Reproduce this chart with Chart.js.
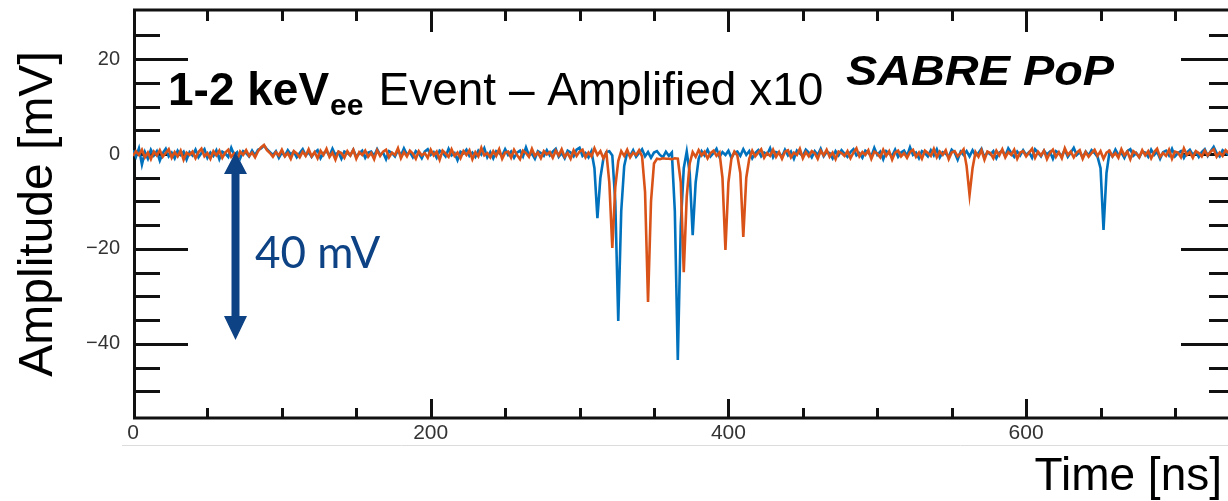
<!DOCTYPE html>
<html>
<head>
<meta charset="utf-8">
<script src="https://cdn.jsdelivr.net/npm/chart.js@4.4.0/dist/chart.umd.min.js"></script>
<style>
  html, body { margin: 0; padding: 0; background: #fff; overflow: hidden; }
</style>
</head>
<body>
<canvas id="pulse" width="1240" height="501"></canvas>
<script>
// digitiser sampling period (ns); sample i sits at t = i * sampleNs
const sampleNs = 2;

// PMT 1 (blue) amplitude in mV, 20 samples (40 ns) per row
const pmt1Mv = [
  0.8, -0.6, 1.2, -2.2, 0.4, -1.0, 0.9, -0.3, 0.6, -1.4, 0.2, 1.1, -0.5, 0.3, -0.9, 0.7, -0.2, 0.5, -1.2, 0.4,
  -0.3, 0.9, -0.7, 0.2, 1.0, -0.8, 0.3, -0.4, 0.8, -1.1, 0.5, 0.1, -0.6, 1.3, -0.2, 0.4, -0.9, 0.6, 0.2, -0.5,
  0.7, -0.3, 0.9, 1.2, 1.8, 1.0, 0.4, -0.2, 0.6, -0.8, 0.3, -0.4, 0.8, -0.1, 0.5, -0.7, 0.2, 1.0, -0.3, 0.4,
  -0.6, 0.3, 0.8, -0.9, 0.2, 0.6, -0.4, 1.1, -0.2, 0.4, -1.0, 0.5, 0.2, -0.3, 0.9, -0.6, 0.1, 0.7, -0.8, 0.3,
  0.5, -0.4, 1.0, -0.2, 0.3, -1.1, 0.6, 0.2, -0.5, 0.8, -0.3, 1.2, -0.1, 0.4, -0.7, 0.6, 0.1, -0.9, 0.5, 1.0,
  -0.2, 0.4, -0.8, 0.7, 0.3, -0.5, 1.1, -0.3, 0.2, -1.3, 0.5, 0.1, 0.9, -0.4, 0.3, -0.6, 0.7, -0.1, 1.2, -0.7,
  0.4, -0.9, 0.6, 0.2, -0.4, 1.0, -0.2, 0.5, -0.8, 0.3, 0.7, -0.5, 1.4, -0.3, 0.1, -1.0, 0.6, 0.2, -0.4, 0.8,
  -0.3, 0.5, 1.1, -0.6, 0.2, -0.9, 0.7, 0.3, -0.5, 0.9, 1.3, -0.4, 0.2, -0.7, 0.6, -3.0, -13.5, -5.0, -1.0, 0.4,
  0.6, -0.3, -10.0, -35.2, -12.0, -2.5, 0.3, -0.4, 0.8, -0.6, 0.2, 1.0, -0.5, 0.4, -0.8, 0.3, 0.6, -0.2, -0.7, 0.5,
  -0.4, 0.3, -12.0, -43.4, -15.0, -3.0, 0.5, -4.0, -17.1, -6.0, -1.0, 0.6, -0.3, 0.9, -0.5, 0.2, 1.1, -0.6, 0.4, -0.2,
  0.7, -0.8, 0.3, 0.5, -0.4, 1.0, -0.2, 0.6, -0.9, 0.2, 0.8, -0.5, 0.3, -0.1, 1.2, -0.7, 0.4, 0.2, -0.6, 0.9,
  -0.3, 0.5, -1.0, 0.7, 0.1, -0.4, 0.9, 0.3, -0.7, 0.6, -0.2, 1.1, -0.5, 0.4, 0.2, -0.9, 0.6, -0.3, 0.8, 0.1,
  -0.6, 0.4, 1.0, -0.3, 0.2, -0.8, 0.7, 0.3, -0.5, 1.3, -0.2, 0.5, -1.1, 0.6, 0.1, -0.4, 0.9, -0.6, 0.3, 0.7,
  -0.4, 1.4, -0.2, 0.3, -0.9, 0.6, 0.2, -0.5, 0.8, -0.3, 1.0, -0.7, 0.4, 0.1, -0.6, 0.9, 0.3, -1.2, 0.5, -0.2,
  0.6, -0.5, 0.8, -0.3, 0.2, 1.1, -0.7, 0.4, -0.1, 0.6, -0.9, 0.3, 0.7, -0.4, 1.2, 0.2, -0.6, 0.5, -0.3, 0.8,
  -0.2, 0.4, -0.8, 1.0, 0.3, -0.5, 0.7, -0.1, 0.5, -1.0, 0.6, 0.2, -0.4, 0.9, -0.6, 0.3, 1.3, -0.2, 0.4, -0.7,
  0.5, -0.3, 0.8, 0.2, -0.6, -3.0, -16.0, -4.0, 0.4, -0.5, 0.9, -0.2, 0.3, -0.8, 0.6, 1.0, -0.4, 0.2, -0.7, 0.5,
  0.3, -0.6, 0.9, -0.2, 0.5, -1.0, 0.4, 0.7, -0.3, 1.1, -0.5, 0.2, 0.6, -0.8, 0.3, 0.9, -0.2, 0.5, -0.6, 0.4,
  1.0, -0.4, 0.6, 1.5, 0.2, -0.5, 0.8, 0.3, -0.2
];

// PMT 2 (orange) amplitude in mV, same sampling
const pmt2Mv = [
  -0.4, 0.6, -0.2, 0.9, -0.7, 0.3, -1.1, 0.5, -0.3, 0.8, -0.6, 0.2, 1.0, -0.8, 0.4, -0.5, 0.7, -1.2, 0.3, -0.2,
  0.5, -0.9, 0.4, 1.1, -0.5, 0.2, -1.0, 0.6, -0.3, 0.7, -0.8, 0.3, 0.9, -0.6, 0.1, -1.3, 0.5, -0.2, 0.8, -0.4,
  0.3, -0.7, 0.6, 1.4, 1.9, 0.8, 0.2, -0.6, 0.4, -0.3, 0.9, -0.5, 0.2, -1.0, 0.6, 0.1, -0.7, 0.5, -0.4, 1.0,
  -0.5, 0.4, -0.9, 0.7, -0.2, 1.1, -0.6, 0.3, -1.2, 0.5, 0.2, -0.8, 0.6, -0.3, 0.9, -1.0, 0.4, -0.2, 0.7, -0.6,
  0.2, -1.1, 0.8, -0.4, 0.5, 0.9, -0.7, 0.3, -0.2, 1.2, -0.9, 0.4, -0.5, 0.7, 0.1, -1.0, 0.6, -0.3, 0.2, -0.8,
  0.9, -0.3, 0.5, -1.2, 0.7, 0.1, -0.6, 1.0, -0.4, 0.3, -0.9, 0.6, -0.2, 0.8, -1.1, 0.4, -0.5, 1.3, -0.3, 0.2,
  -0.7, 0.6, -0.4, 1.0, -1.0, 0.3, 0.5, -0.8, 0.9, -0.2, -1.1, 0.7, 0.2, -0.6, 1.1, -0.4, 0.3, -0.9, 0.6, -0.1,
  0.4, -0.8, 0.7, -0.3, 1.0, -0.6, 0.2, -1.0, 0.8, -0.4, 0.5, 0.9, -0.7, 0.3, -0.5, 1.2, -0.2, 0.6, -0.9, 0.3,
  -6.0, -19.8, -7.0, -1.5, 0.6, -0.4, 0.9, -0.7, 0.3, -0.2, 0.8, -0.5, -8.0, -31.2, -10.0, -2.0, -1.0, -1.1, -0.9, -1.0,
  -1.0, -1.1, -0.9, -1.0, -6.0, -24.9, -9.0, -2.0, 0.4, -0.6, 0.8, -0.3, 0.5, -0.9, 0.2, 0.7, -0.4, 0.3, -5.0, -20.2,
  -6.0, -1.0, 0.5, -0.3, -4.0, -17.5, -5.0, -1.0, 0.7, -0.5, 0.3, 1.0, -0.8, 0.2, -0.4, 0.9, -0.6, 0.4, -1.0, 0.5,
  0.8, -0.7, 0.3, -0.2, 1.1, -0.9, 0.4, -0.5, 0.6, 0.2, -1.0, 0.7, -0.3, 0.9, -0.6, 0.3, -1.1, 0.5, 0.2, -0.4,
  0.6, -0.9, 0.3, 1.2, -0.5, 0.4, -0.2, 0.8, -1.0, 0.5, 0.1, -0.7, 0.9, -0.4, 0.6, -1.2, 0.3, 0.7, -0.5, 0.2,
  -0.8, 0.4, 0.9, -0.6, 0.3, -1.0, 0.7, 0.2, -0.4, 1.1, -0.7, 0.5, -0.2, 0.8, -1.1, 0.3, 0.6, -0.5, 0.2, 1.0,
  -2.5, -8.6, -3.0, 0.4, -0.6, 0.8, -1.2, 0.5, 0.2, -0.9, 0.7, -0.3, 1.0, -0.7, 0.4, -0.2, 0.9, -1.0, 0.3, 0.6,
  -0.5, 0.3, 1.1, -0.8, 0.5, -0.3, 0.7, -1.1, 0.2, 0.9, -0.6, 0.4, -0.9, 1.2, -0.2, 0.5, -0.7, 0.3, 0.8, -1.0,
  0.4, -0.6, 0.2, 0.9, -0.4, 0.6, -1.0, 0.3, 0.7, -0.5, 0.2, -0.8, 1.0, -0.3, 0.5, -1.1, 0.6, 0.1, -0.7, 0.8,
  -0.3, 0.6, -0.9, 0.4, 1.1, -0.6, 0.2, -0.4, 0.9, -1.0, 0.5, 0.3, -0.7, 1.2, -0.2, 0.4, -0.8, 0.6, 0.2, -0.5,
  0.7, -0.3, 0.5, 1.0, -0.6, 0.3, -0.4, 0.8, 0.2
];

const xTickLabels = [0, 200, 400, 600];
const yTickLabels = [20, 0, -20, -40];

const toPoints = arr => arr.map((v, i) => ({ x: i * sampleNs, y: v }));

// MATLAB-style frame: box with ticks on all four sides
const framePlugin = {
  id: 'frame',
  beforeDatasetsDraw(chart) {
    const { ctx, chartArea: a, scales: { x, y } } = chart;
    ctx.save();
    ctx.strokeStyle = '#111';
    ctx.lineWidth = 3;
    ctx.lineCap = 'butt';
    ctx.beginPath();
    for (let v = -50; v <= 25; v += 5) {
      const py = Math.round(y.getPixelForValue(v)) + 0.5;
      const len = v % 20 === 0 ? 55 : 27;
      ctx.moveTo(a.left, py); ctx.lineTo(a.left + len, py);
      ctx.moveTo(a.right, py); ctx.lineTo(a.right - len, py);
    }
    for (let t = 50; t <= 700; t += 50) {
      const px = Math.round(x.getPixelForValue(t)) + 0.5;
      const major = t % 200 === 0;
      ctx.moveTo(px, a.bottom); ctx.lineTo(px, a.bottom - (major ? 19 : 10));
      ctx.moveTo(px, a.top); ctx.lineTo(px, a.top + (major ? 22 : 11));
    }
    ctx.stroke();
    ctx.beginPath();
    ctx.moveTo(a.left + 1.5, a.top);
    ctx.lineTo(a.left + 1.5, a.bottom);
    ctx.lineTo(a.right, a.bottom);
    ctx.lineTo(a.right, a.top);
    ctx.closePath();
    ctx.stroke();
    // faint edge of the pasted plot
    ctx.strokeStyle = '#dcdcdc';
    ctx.lineWidth = 1;
    ctx.beginPath();
    ctx.moveTo(122, 445.5); ctx.lineTo(chart.width, 445.5);
    ctx.stroke();
    ctx.restore();
  },
  afterDraw(chart) {
    const { ctx } = chart;
    const blue = '#0d4285';
    ctx.save();
    ctx.textBaseline = 'alphabetic';

    // 40 mV double arrow
    ctx.fillStyle = blue;
    ctx.fillRect(231.5, 170, 8, 150);
    ctx.beginPath();
    ctx.moveTo(235.5, 152); ctx.lineTo(247, 174); ctx.lineTo(224, 174); ctx.closePath();
    ctx.moveTo(235.5, 340); ctx.lineTo(247, 316); ctx.lineTo(224, 316); ctx.closePath();
    ctx.fill();
    ctx.font = '44px Lato, "Open Sans", sans-serif';
    ctx.textAlign = 'left';
    ctx.fillText('40 mV', 255, 268);

    // headline
    ctx.fillStyle = '#000';
    ctx.font = 'bold 46px "Liberation Sans", Arial, sans-serif';
    ctx.fillText('1-2 keV', 168, 105);
    let cx = 168 + ctx.measureText('1-2 keV').width + 1;
    ctx.font = 'bold 30px "Liberation Sans", Arial, sans-serif';
    ctx.fillText('ee', cx, 115);
    cx += ctx.measureText('ee').width + 15;
    ctx.font = '46px "Liberation Sans", Arial, sans-serif';
    ctx.fillText('Event \u2013 Amplified x10', cx, 105);

    ctx.font = 'italic bold 42px "Liberation Sans", Arial, sans-serif';
    const sw = ctx.measureText('SABRE PoP').width;
    ctx.save();
    ctx.translate(846, 85);
    ctx.scale(268 / sw, 1);
    ctx.fillText('SABRE PoP', 0, 0);
    ctx.restore();

    // axis titles
    ctx.font = '48px "Liberation Sans", Arial, sans-serif';
    ctx.save();
    ctx.translate(52, 214);
    ctx.rotate(-Math.PI / 2);
    ctx.textAlign = 'center';
    ctx.fillText('Amplitude [mV]', 0, 0);
    ctx.restore();

    ctx.font = '46px "Liberation Sans", Arial, sans-serif';
    ctx.textAlign = 'right';
    ctx.fillText('Time [ns]', 1222, 490);
    ctx.restore();
  }
};

new Chart(document.getElementById('pulse'), {
  type: 'line',
  data: {
    datasets: [{
      label: 'PMT 1',
      data: toPoints(pmt1Mv),
      borderColor: '#0072BD',
      borderWidth: 2.6,
      pointRadius: 0,
      order: 2
    }, {
      label: 'PMT 2',
      data: toPoints(pmt2Mv),
      borderColor: '#D95319',
      borderWidth: 2.6,
      pointRadius: 0,
      order: 1
    }]
  },
  options: {
    responsive: false,
    animation: false,
    devicePixelRatio: 1,
    layout: { padding: { top: 10, right: 4, left: 0, bottom: 0 } },
    plugins: {
      legend: { display: false },
      tooltip: { enabled: false }
    },
    scales: {
      x: {
        type: 'linear',
        min: 0,
        max: 741,
        afterBuildTicks: s => { s.ticks = xTickLabels.map(v => ({ value: v })); },
        afterFit: s => { s.height = 83; s.paddingLeft = 0; s.paddingRight = 0; },
        grid: { display: false, drawTicks: false },
        border: { display: false },
        ticks: {
          padding: 3,
          color: '#333',
          font: { family: '"Liberation Sans", Arial, sans-serif', size: 21 },
          maxRotation: 0
        }
      },
      y: {
        type: 'linear',
        min: -55.64,
        max: 30.35,
        afterBuildTicks: s => { s.ticks = yTickLabels.map(v => ({ value: v })); },
        afterFit: s => { s.width = 133; s.paddingTop = 0; s.paddingBottom = 0; },
        grid: { display: false, drawTicks: false },
        border: { display: false },
        ticks: {
          padding: 13,
          color: '#333',
          font: { family: '"Liberation Sans", Arial, sans-serif', size: 20 },
          callback: v => (v < 0 ? '\u2212' + Math.abs(v) : String(v))
        }
      }
    }
  },
  plugins: [framePlugin]
});
</script>
</body>
</html>
